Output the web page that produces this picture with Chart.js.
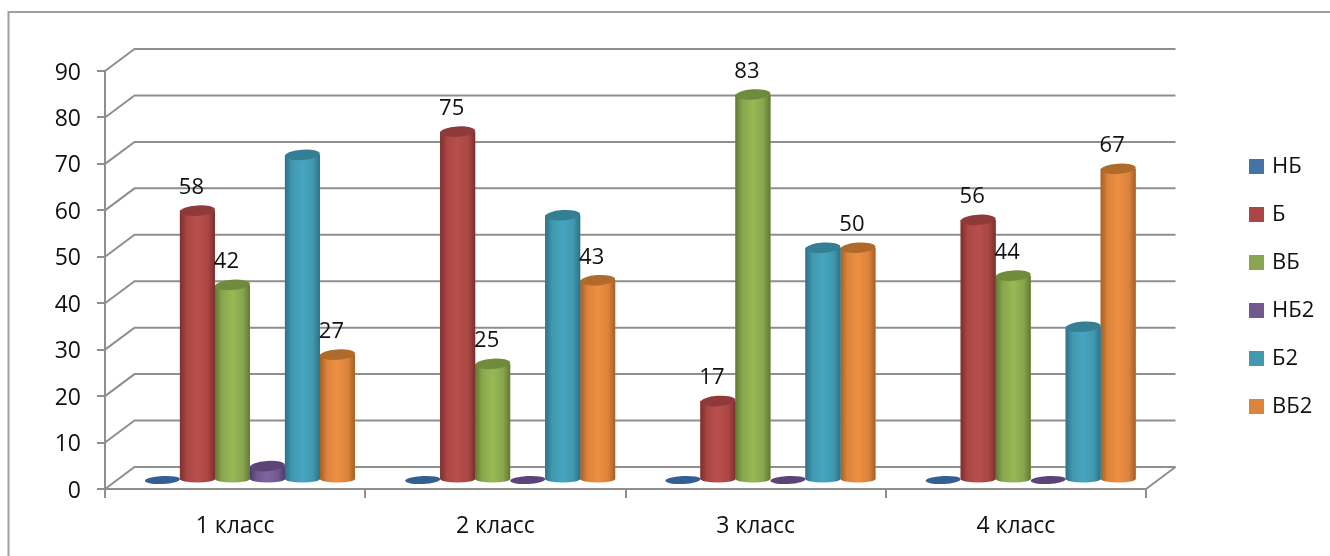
<!DOCTYPE html>
<html><head><meta charset="utf-8">
<style>html,body{margin:0;padding:0;background:#fff}canvas{display:block}</style>
<script src="https://cdn.jsdelivr.net/npm/chart.js@4"></script>
</head><body>
<canvas id="c" width="1330" height="556"></canvas>
<script>
const categories = ['1 класс','2 класс','3 класс','4 класс'];
const seriesNames = ['НБ','Б','ВБ','НБ2','Б2','ВБ2'];
const nb  = [0,0,0,0];
const b   = [58,75,17,56];
const vb  = [42,25,83,44];
const nb2 = [3,0,0,0];
const b2  = [70,57,50,33];
const vb2 = [27,43,50,67];
const seriesValues = [nb,b,vb,nb2,b2,vb2];
const labelledSeries = [false,true,true,false,false,true];
const colors = ['#4573a7','#aa4744','#89a54e','#71588f','#4198af','#db843d'];
const light  = ['#4f81bd','#b84f4c','#98b954','#8064a2','#46a5c0','#ee8f42'];
const dark   = ['#2f5686','#7c2f2d','#5f7a32','#4f3a6b','#2a7288','#a55f26'];
const topCol = ['#335f92','#8e3a38','#6f8c3c','#5c4478','#357f95','#b06a2c'];
const gridColor = '#8f8f8f';
const depthX = 29.5, depthY = 22, barShiftX = 14.8, barShiftY = 9;

const scene = {
  id:'scene',
  beforeDraw(chart){
    const c = chart.ctx;
    c.save();
    c.fillStyle='#fff'; c.fillRect(0,0,chart.width,chart.height);
    c.strokeStyle='#a0a0a0'; c.lineWidth=2;
    c.beginPath(); c.moveTo(8.5,chart.height+2); c.lineTo(8.5,12); c.lineTo(chart.width+2,12); c.stroke();
    c.restore();
  },
  beforeDatasetsDraw(chart){
    const c = chart.ctx, y = chart.scales.y, a = chart.chartArea;
    c.save();
    c.strokeStyle=gridColor; c.lineWidth=2;
    y.ticks.forEach(t=>{
      const py = y.getPixelForValue(t.value);
      c.beginPath(); c.moveTo(a.left,py); c.lineTo(a.left+depthX,py-depthY); c.lineTo(a.right+depthX,py-depthY); c.stroke();
    });
    c.beginPath(); c.moveTo(a.right,a.bottom); c.lineTo(a.right+depthX,a.bottom-depthY); c.stroke();
    c.restore();
    c.save();
    c.translate(barShiftX,-barShiftY);
  },
  afterDatasetDraw(chart,args){
    const c = chart.ctx, i = args.index, meta = args.meta;
    meta.data.forEach(el=>{
      const rx = el.width/2, cx = el.x, h = el.base-el.y;
      const g = c.createLinearGradient(cx-rx,0,cx+rx,0);
      g.addColorStop(0,dark[i]); g.addColorStop(.2,colors[i]); g.addColorStop(.5,light[i]); g.addColorStop(.8,colors[i]); g.addColorStop(1,dark[i]);
      c.save();
      if(h<1){
        c.fillStyle=topCol[i];
        c.beginPath(); c.ellipse(cx,el.y,rx,4,-0.05,0,Math.PI*2); c.fill();
      }else{
        c.fillStyle=g;
        c.beginPath(); c.moveTo(cx-rx,el.y); c.lineTo(cx-rx,el.base);
        c.ellipse(cx,el.base,rx,3.5,0,Math.PI,0,true);
        c.lineTo(cx+rx,el.y); c.closePath(); c.fill();
        c.fillStyle=topCol[i];
        c.beginPath(); c.ellipse(cx,el.y,rx,5.2,-0.07,0,Math.PI*2); c.fill();
      }
      c.restore();
    });
  },
  afterDatasetsDraw(chart){
    const c = chart.ctx;
    c.restore();
    c.save();
    c.fillStyle='#111'; c.font='22px "Open Sans"'; c.textAlign='center'; c.textBaseline='middle';
    chart.data.datasets.forEach((d,i)=>{
      if(!labelledSeries[i]) return;
      chart.getDatasetMeta(i).data.forEach((el,j)=>{
        c.fillText(String(d.data[j]), el.x+barShiftX-6, el.y-barShiftY-23);
      });
    });
    c.restore();
  },
  afterLayout(chart){
    const l = chart.legend, pad = chart.options.plugins.legend.labels.padding;
    l.left = 1252-pad; l.right = l.left+l.width;
    l.top = 155.5-pad; l.bottom = l.top+l.height;
  }
};

const chart = new Chart(document.getElementById('c'),{
  type:'bar',
  data:{labels:categories,datasets:seriesNames.map((n,i)=>({
    label:n,data:seriesValues[i],backgroundColor:colors[i],borderWidth:0,clip:false
  }))},
  options:{
    responsive:false,animation:false,devicePixelRatio:1,
    categoryPercentage:0.807,barPercentage:1,
    layout:{padding:{left:45,right:0,top:71,bottom:0}},
    plugins:{
      title:{display:false},tooltip:{enabled:false},
      legend:{position:'right',align:'start',
        labels:{boxWidth:9,boxHeight:9,padding:26,color:'#111',font:{family:'"Open Sans"',size:22},
          generateLabels(ch){
            return Chart.defaults.plugins.legend.labels.generateLabels(ch).map(it=>{
              it.strokeStyle=it.fillStyle; it.lineWidth=6; return it;
            });
          }}}
    },
    scales:{
      x:{
        afterFit(s){s.height=67;},
        grid:{offset:true,drawOnChartArea:false,color:gridColor,lineWidth:2,tickLength:9},
        border:{color:gridColor,width:2},
        ticks:{color:'#111',padding:15,maxRotation:0,font:{family:'"Open Sans"',size:23}}
      },
      y:{
        min:0,max:90,
        afterFit(s){s.width=60;},
        grid:{drawOnChartArea:false,color:gridColor,lineWidth:2,tickLength:8},
        border:{color:gridColor,width:2},
        ticks:{stepSize:10,color:'#111',padding:16,labelOffset:2,font:{family:'"Open Sans"',size:23}}
      }
    }
  },
  plugins:[scene]
});
chart.options.layout.padding.right = 1330-1146-chart.legend.width;
chart.update();
</script>
</body></html>
